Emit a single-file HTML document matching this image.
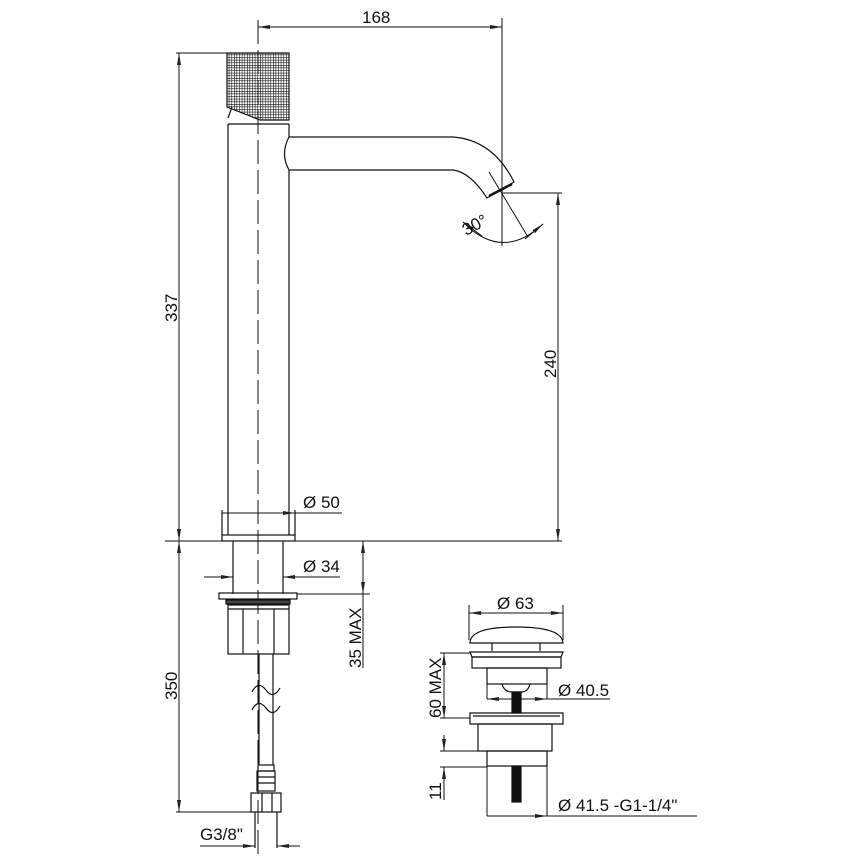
<!DOCTYPE html>
<html><head><meta charset="utf-8"><style>
html,body{margin:0;padding:0;background:#fff}
svg{display:block}
text{font-family:"Liberation Sans",sans-serif;font-size:17px;fill:#111}
</style></head><body>
<svg width="858" height="858" viewBox="0 0 858 858" xmlns="http://www.w3.org/2000/svg">
<defs>
<marker id="a" viewBox="0 0 12 4" refX="12" refY="2" markerWidth="12" markerHeight="4" markerUnits="userSpaceOnUse" orient="auto-start-reverse">
<path d="M12,2 L0,0 L0,4 Z" fill="#222"/></marker>
<pattern id="g" width="2.6" height="2.6" patternUnits="userSpaceOnUse">
<rect width="2.6" height="2.6" fill="#fff"/><path d="M0,0H2.6M0,0V2.6" stroke="#000" stroke-width="1.1"/></pattern>
</defs>
<g fill="none" stroke="#111" stroke-width="1.2">
<path d="M227,53 H289 V120 H260 L227,107 Z" fill="url(#g)"/>
<path d="M232,107 L228,118"/>
<path d="M228,124 H289 M228,124 V535 M289,124 V137 M289,170 V535"/>
<path d="M289,137 H453 Q493,140 514,182 L487,198 Q470,172 453,170 H289"/>
<path d="M289,137 Q280,154 289,170"/>
<path d="M258,20 V860" stroke-dasharray="24,6" stroke-width="1"/>
<rect x="222" y="535" width="73" height="6"/>
<path d="M222,510 V535 M295,510 V535"/>
<path d="M165,541 H562" stroke-width="1"/>
<path d="M233,541 V594 M283,541 V594"/>
<rect x="219" y="593" width="78" height="6"/>
<rect x="226" y="600" width="64" height="4" fill="#444"/>
<rect x="228" y="605" width="61" height="49"/>
<path d="M243,609 V654 M274,609 V654 M228,609 H289"/>
<path d="M259,654 V765 M273,654 V765"/>
<path d="M252,692 Q258,680 266,690 Q273,700 280,688 M252,710 Q258,698 266,708 Q273,718 280,706"/>
<rect x="258" y="765" width="16" height="6"/>
<rect x="257" y="771" width="18" height="20"/>
<path d="M257,777 H275 M257,783 H275"/>
<rect x="251" y="793" width="30" height="19"/>
<path d="M262,793 V812 M272,793 V812"/>
<path d="M255,812 V848 M277,812 V848"/>
<path d="M258,27 H502" marker-start="url(#a)" marker-end="url(#a)" stroke-width="1"/>
<path d="M502,18 V246" stroke-width="1"/>
<path d="M176,53 H227" stroke-width="1"/>
<path d="M179,53 V541" marker-start="url(#a)" marker-end="url(#a)" stroke-width="1"/>
<path d="M502,193 H562" stroke-width="1"/>
<path d="M558,193 V541" marker-start="url(#a)" marker-end="url(#a)" stroke-width="1"/>
<path d="M489,172 L528,237" stroke-width="1"/>
<path d="M463,222 Q502,262 543,224" stroke-width="1"/>
<path d="M482,236 L463,222" marker-end="url(#a)" stroke-width="1"/>
<path d="M525,239 L543,224" marker-end="url(#a)" stroke-width="1"/>
<path d="M489,196 L512,184" stroke="#111" stroke-width="2.5"/>
<path d="M222,513 H342" stroke-width="1"/>
<path d="M236,513 H222 M281,513 H295" stroke-width="1" marker-end="url(#a)"/>
<path d="M204,577 H233 M283,577 H340" stroke-width="1"/>
<path d="M220,577 H233" marker-end="url(#a)" stroke-width="1"/>
<path d="M298,577 H283" marker-end="url(#a)" stroke-width="1"/>
<path d="M297,594 H370" stroke-width="1"/>
<path d="M363,541 V594" marker-start="url(#a)" marker-end="url(#a)" stroke-width="1"/>
<path d="M363,594 V668" stroke-width="1"/>
<path d="M179,541 V812" marker-start="url(#a)" marker-end="url(#a)" stroke-width="1"/>
<path d="M176,812 H251" stroke-width="1"/>
<path d="M200,846 H255 M277,846 H300" stroke-width="1"/>
<path d="M240,846 H255" marker-end="url(#a)" stroke-width="1"/>
<path d="M292,846 H277" marker-end="url(#a)" stroke-width="1"/>
<path d="M469,613 H563" marker-start="url(#a)" marker-end="url(#a)" stroke-width="1"/>
<path d="M469,605 V640 M563,605 V640" stroke-width="1"/>
<path d="M470,643 Q470,627 516,627 Q562,627 563,643 Z"/>
<path d="M492,643 V651 M540,643 V651"/>
<path d="M470,652 H563 L561,657 H472 Z"/>
<rect x="472" y="657" width="89" height="11"/>
<rect x="487" y="668" width="60" height="16"/>
<path d="M502,684 Q504,692 512,692 H521 Q528,692 530,684"/>
<rect x="512" y="692" width="9" height="21" fill="#111"/>
<path d="M487,684 V699 M547,684 V699 M487,699 H610" stroke-width="1"/>
<path d="M503,699 H487" marker-end="url(#a)" stroke-width="1"/>
<path d="M531,699 H547" marker-end="url(#a)" stroke-width="1"/>
<path d="M470,713 H563 V724 H470 Z"/>
<path d="M473,716 H560"/>
<rect x="478" y="724" width="74" height="27"/>
<rect x="487" y="751" width="60" height="15"/>
<rect x="512" y="766" width="9" height="36" fill="#111"/>
<path d="M487,766 V816 M547,766 V816 M487,816 H697" stroke-width="1"/>
<path d="M503,816 H487 M531,816 H547" stroke-width="1" marker-end="url(#a)"/>
<path d="M440,653 H470 M440,718 H470 M440,751 H478 M440,767 H487" stroke-width="1"/>
<path d="M444,653 V718" marker-start="url(#a)" marker-end="url(#a)" stroke-width="1"/>
<path d="M444,735 V751" marker-end="url(#a)" stroke-width="1"/>
<path d="M444,783 V767" marker-end="url(#a)" stroke-width="1"/>
<path d="M444,783 V800" stroke-width="1"/>
</g>
<text x="362" y="23">168</text>
<text transform="translate(177,322) rotate(-90)">337</text>
<text transform="translate(556,378) rotate(-90)">240</text>
<text transform="translate(466,236) rotate(-28)" font-size="15">30°</text>
<text x="303" y="508">Ø 50</text>
<text x="303" y="572">Ø 34</text>
<text transform="translate(361,668) rotate(-90)">35 MAX</text>
<text transform="translate(177,700) rotate(-90)">350</text>
<text x="200" y="840">G3/8"</text>
<text x="497" y="609">Ø 63</text>
<text x="558" y="696">Ø 40.5</text>
<text transform="translate(441,718) rotate(-90)">60 MAX</text>
<text transform="translate(441,800) rotate(-90)">11</text>
<text x="558" y="811">Ø 41.5 -G1-1/4"</text>
</svg>
</body></html>
